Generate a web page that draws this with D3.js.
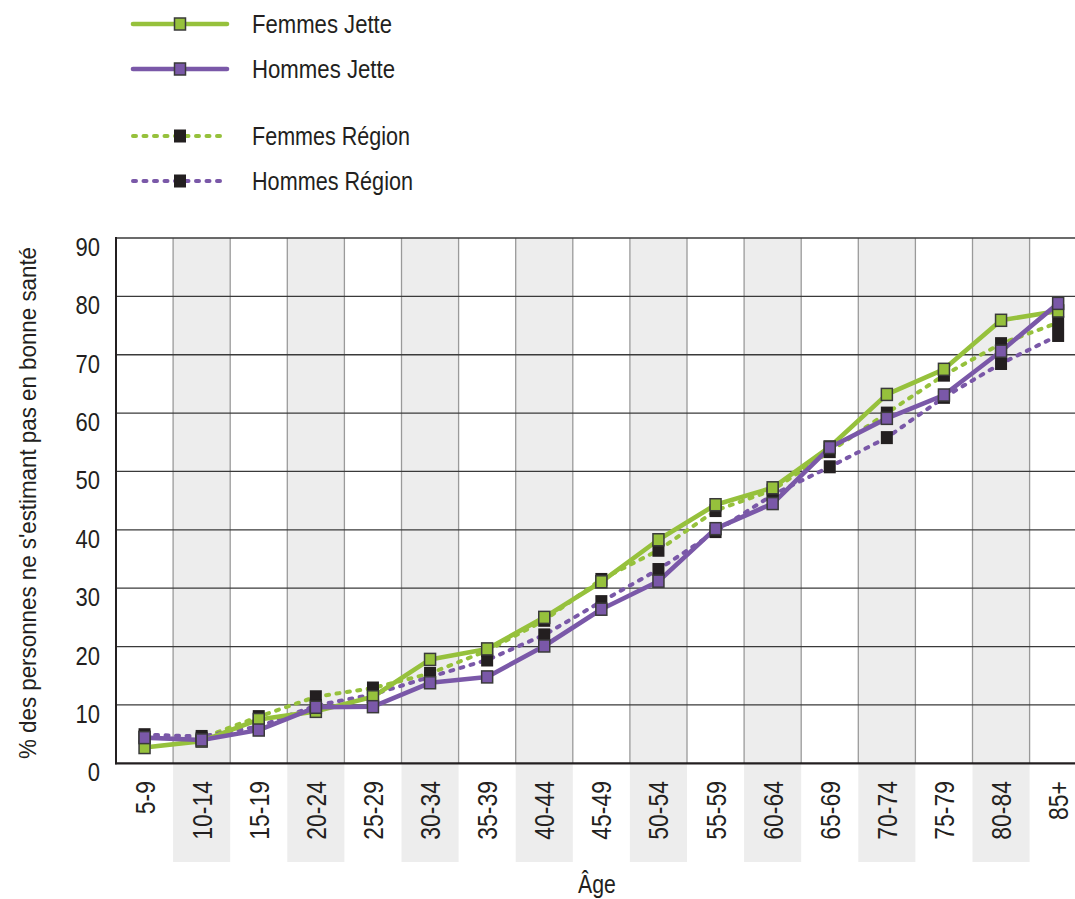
<!DOCTYPE html>
<html>
<head>
<meta charset="utf-8">
<script src="https://cdn.jsdelivr.net/npm/d3@7"></script>
<style>
body { margin: 0; background: #fff; }
svg text { fill: #231f20; font-family: 'Liberation Sans', 'Roboto', sans-serif; }
</style>
</head>
<body>
<svg id="chart"></svg>
<script>
//DATA
var ages = ['5-9','10-14','15-19','20-24','25-29','30-34','35-39','40-44','45-49','50-54','55-59','60-64','65-69','70-74','75-79','80-84','85+'];
var femmesJette  = [2.7, 3.8, 7.5, 8.9, 11.4, 17.8, 19.6, 25.0, 31.1, 38.3, 44.3, 47.2, 54.2, 63.2, 67.5, 75.9, 77.5];
var hommesJette  = [4.4, 4.0, 5.7, 9.6, 9.7, 13.8, 14.8, 20.1, 26.4, 31.2, 40.2, 44.5, 54.1, 59.1, 63.1, 70.6, 78.8];
var femmesRegion = [4.5, 4.3, 8.0, 11.4, 12.9, 15.4, 19.3, 24.5, 31.5, 36.5, 43.3, 46.8, 53.4, 60.0, 66.5, 71.9, 75.5];
var hommesRegion = [4.9, 4.6, 6.3, 9.9, 11.8, 14.8, 17.7, 22.0, 27.7, 33.2, 39.7, 46.0, 50.8, 55.8, 62.7, 68.5, 73.3];
var yTicks = [0,10,20,30,40,50,60,70,80,90];

var green = '#96c13c', purple = '#7a58a8', dark = '#231f20';

//chart parameters
var svg = d3.select('#chart')
    .attr('width', 1075)
    .attr('height', 899);

var margin = {left: 116, top: 238, bottom: 763.3},
    bandW = 57.1;

//scales
var xScale = d3.scaleBand().domain(ages).range([margin.left, margin.left + bandW * ages.length]),
    yScale = d3.scaleLinear().domain([0, 90]).range([margin.bottom, margin.top]);
var cx = d => xScale(d) + xScale.bandwidth() / 2;

//alternate bands
svg.append('g').selectAll('rect')
    .data(ages.filter((d, i) => i % 2 == 1))
    .enter().append('rect')
        .attr('x', d => xScale(d))
        .attr('y', margin.top)
        .attr('width', xScale.bandwidth())
        .attr('height', 862 - margin.top)
        .style('fill', '#ededed');

//vertical gridlines
svg.append('g').selectAll('line')
    .data(ages.slice(1))
    .enter().append('line')
        .attr('x1', d => xScale(d)).attr('x2', d => xScale(d))
        .attr('y1', margin.top).attr('y2', margin.bottom)
        .style('stroke', '#9a9a9a').style('stroke-width', 1.3);

//horizontal gridlines
svg.append('g').selectAll('line')
    .data(yTicks.slice(1))
    .enter().append('line')
        .attr('x1', margin.left).attr('x2', 1075)
        .attr('y1', d => yScale(d)).attr('y2', d => yScale(d))
        .style('stroke', '#3a3a3a').style('stroke-width', 1.3);

//axes
svg.append('line')
    .attr('x1', margin.left).attr('x2', margin.left)
    .attr('y1', margin.top - 1).attr('y2', margin.bottom + 1)
    .style('stroke', dark).style('stroke-width', 2);
svg.append('line')
    .attr('x1', margin.left - 1).attr('x2', 1075)
    .attr('y1', margin.bottom).attr('y2', margin.bottom)
    .style('stroke', dark).style('stroke-width', 2.2);

//y tick labels (condensed look)
svg.append('g').selectAll('text')
    .data(yTicks)
    .enter().append('text')
        .attr('transform', d => 'translate(100,' + (yScale(d) + 18) + ') scale(0.88,1)')
        .attr('text-anchor', 'end')
        .style('font-size', '25px')
        .text(d => d);

//x tick labels
svg.append('g').selectAll('text')
    .data(ages)
    .enter().append('text')
        .attr('transform', d => 'translate(' + (cx(d) + 10) + ',781) rotate(-90) scale(0.85,1)')
        .attr('text-anchor', 'end')
        .style('font-size', '27px')
        .text(d => d);

//axis titles
svg.append('text')
    .attr('transform', 'translate(36,503) rotate(-90)')
    .attr('text-anchor', 'middle')
    .attr('textLength', 512)
    .attr('lengthAdjust', 'spacingAndGlyphs')
    .style('font-size', '24px')
    .text("% des personnes ne s'estimant pas en bonne santé");
svg.append('text')
    .attr('transform', 'translate(597,893) scale(0.85,1)')
    .attr('text-anchor', 'middle')
    .style('font-size', '25px')
    .text('Âge');

//series
var series = [
    {name: 'Femmes Région', values: femmesRegion, color: green, dash: true},
    {name: 'Hommes Région', values: hommesRegion, color: purple, dash: true},
    {name: 'Femmes Jette', values: femmesJette, color: green, dash: false},
    {name: 'Hommes Jette', values: hommesJette, color: purple, dash: false}
];

var line = d3.line()
    .x((d, i) => cx(ages[i]))
    .y(d => yScale(d));

function styleLine(sel, s) {
    sel.style('fill', 'none')
        .style('stroke', s.color)
        .style('stroke-width', s.dash ? 4 : 4.6)
        .style('stroke-linecap', 'round')
        .style('stroke-linejoin', 'round')
        .style('stroke-dasharray', s.dash ? '3,7.5' : null);
}

function marker(g, x, y, s) {
    if (s.dash) {
        g.append('rect')
            .attr('x', x - 6).attr('y', y - 6.5)
            .attr('width', 12).attr('height', 13)
            .style('fill', dark);
    } else {
        g.append('rect')
            .attr('x', x - 5.5).attr('y', y - 6)
            .attr('width', 11).attr('height', 12)
            .style('fill', s.color)
            .style('stroke', '#3a3a3a').style('stroke-width', 1.5);
    }
}

var plot = svg.append('g');
series.forEach(s => {
    plot.append('path').datum(s.values).attr('d', line).call(styleLine, s);
});
series.forEach(s => {
    var g = plot.append('g');
    s.values.forEach((v, i) => marker(g, cx(ages[i]), yScale(v), s));
});

//legend
var legendRows = [
    {s: series[2], y: 24, w: 140},
    {s: series[3], y: 69, w: 143},
    {s: series[0], y: 136, w: 158},
    {s: series[1], y: 181, w: 161}
];
var legend = svg.append('g');
legendRows.forEach(r => {
    legend.append('line')
        .attr('x1', 133).attr('x2', 227)
        .attr('y1', r.y).attr('y2', r.y)
        .call(styleLine, r.s);
    marker(legend, 180, r.y, r.s);
    legend.append('text')
        .attr('x', 252).attr('y', r.y + 9)
        .attr('textLength', r.w)
        .attr('lengthAdjust', 'spacingAndGlyphs')
        .style('font-size', '25px')
        .text(r.s.name);
});
</script>
</body>
</html>
